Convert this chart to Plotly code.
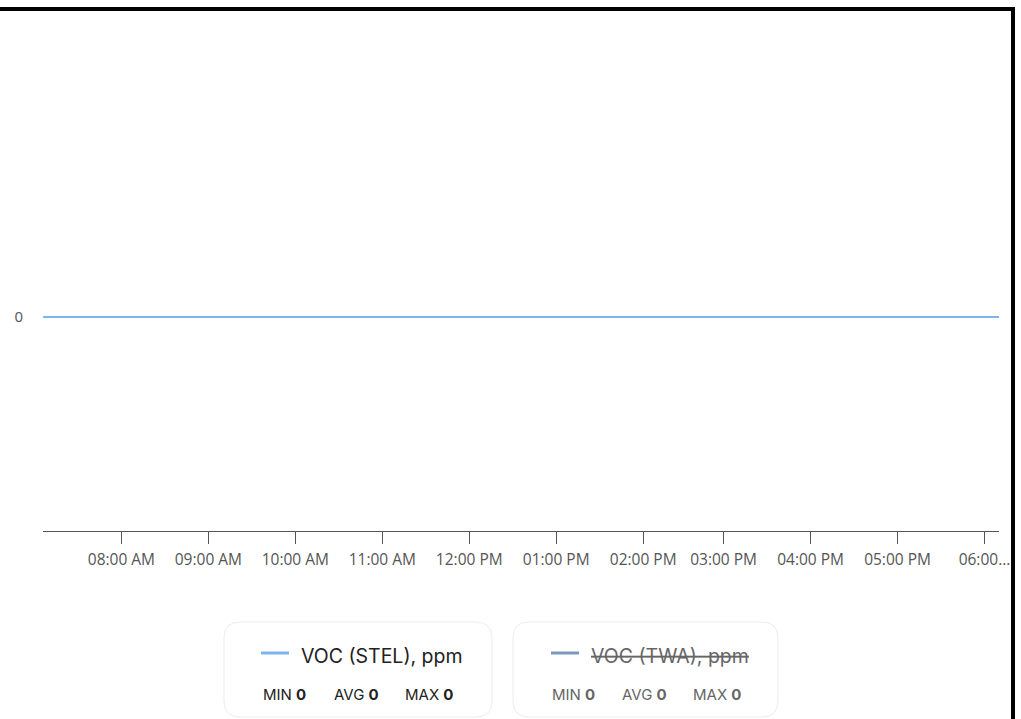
import numpy as np
import plotly.graph_objects as go

# ---- data ----
day = "2024-05-14"
times = ["07:06", "08:00", "09:00", "10:00", "11:00", "12:00", "13:00",
         "14:00", "15:00", "16:00", "17:00", "18:00", "18:10"]
stel_values = [0, 0, 0, 0, 0, 0, 0, 0, 0, 0, 0, 0, 0]
twa_values = [0, 0, 0, 0, 0, 0, 0, 0, 0, 0, 0, 0, 0]
tick_times = ["08:00", "09:00", "10:00", "11:00", "12:00", "13:00",
              "14:00", "15:00", "16:00", "17:00", "18:00"]
tick_labels = ["08:00 AM", "09:00 AM", "10:00 AM", "11:00 AM", "12:00 PM",
               "01:00 PM", "02:00 PM", "03:00 PM", "04:00 PM", "05:00 PM",
               "06:00..."]
gap = ["14:30", "14:34:30"]  # missing data interval
series_names = ["VOC (STEL), ppm", "VOC (TWA), ppm"]
series_colors = ["#7cb5ec", "#7798BF"]

x = [f"{day} {t}" for t in times]
tickvals = [f"{day} {t}" for t in tick_times]

fig = go.Figure()
fig.add_trace(go.Scatter(x=x, y=stel_values, mode="lines", name=series_names[0],
                         line=dict(color=series_colors[0], width=2), showlegend=False))
fig.add_trace(go.Scatter(x=x, y=twa_values, mode="lines", name=series_names[1],
                         line=dict(color=series_colors[1], width=2), visible=False,
                         showlegend=False))

W, H = 1021, 719
L, R, T, B = 43, 999, 103, 531


def px(v):
    return (v - L) / (R - L)


def py(v):
    return (B - v) / (B - T)


def rrect(x0, y0, x1, y1, r):
    pts = [
        ("M", [(x0 + r, y0)]),
        ("L", [(x1 - r, y0)]),
        ("Q", [(x1, y0), (x1, y0 + r)]),
        ("L", [(x1, y1 - r)]),
        ("Q", [(x1, y1), (x1 - r, y1)]),
        ("L", [(x0 + r, y1)]),
        ("Q", [(x0, y1), (x0, y1 - r)]),
        ("L", [(x0, y0 + r)]),
        ("Q", [(x0, y0), (x0 + r, y0)]),
    ]
    s = ""
    for cmd, ps in pts:
        s += cmd + " " + " ".join(f"{px(a):.5f},{py(b):.5f}" for a, b in ps) + " "
    return s + "Z"


shapes = []
# frame lines (black borders)
shapes.append(dict(type="rect", xref="paper", yref="paper", x0=px(0), x1=px(1015),
                   y0=py(11), y1=py(7), fillcolor="black", line=dict(width=0)))
shapes.append(dict(type="rect", xref="paper", yref="paper", x0=px(1011), x1=px(1015),
                   y0=py(725), y1=py(7), fillcolor="black", line=dict(width=0)))

boxes = [(224, 492), (513, 778)]
title_x = [300, 590]
line_x = [(261, 289), (551, 579)]
stat_x = [(262, 333, 404), (551, 621, 692)]
text_colors = ["#222222", "#666666"]
annotations = []
for i, (bx0, bx1) in enumerate(boxes):
    shapes.append(dict(type="path", xref="paper", yref="paper",
                       path=rrect(bx0, 622, bx1, 717, 16),
                       line=dict(color="#ededed", width=1), fillcolor="white"))
    shapes.append(dict(type="line", xref="paper", yref="paper",
                       x0=px(line_x[i][0]), x1=px(line_x[i][1]), y0=py(653), y1=py(653),
                       line=dict(color=series_colors[i], width=3)))
    name = series_names[i] if i == 0 else f"<s>{series_names[i]}</s>"
    annotations.append(dict(xref="paper", yref="paper", x=px(title_x[i] - 1), y=py(656),
                            text=name, showarrow=False, xanchor="left", yanchor="middle",
                            font=dict(family="Inter", size=19.5, color=text_colors[i])))
    vals = stel_values if i == 0 else twa_values
    stats = [("MIN", np.min(vals)), ("AVG", np.mean(vals)), ("MAX", np.max(vals))]
    for (lab, v), sx in zip(stats, stat_x[i]):
        annotations.append(dict(xref="paper", yref="paper", x=px(sx - 1), y=py(694),
                                text=f"{lab} <b>{v:g}</b>", showarrow=False,
                                xanchor="left", yanchor="middle",
                                font=dict(family="Inter", size=15, color=text_colors[i])))

fig.update_layout(
    width=W, height=H,
    margin=dict(l=L, r=W - R, t=T, b=H - B, pad=0),
    paper_bgcolor="white", plot_bgcolor="white",
    showlegend=False,
    shapes=shapes, annotations=annotations,
    xaxis=dict(type="date", range=[f"{day} 07:05:54", f"{day} 18:10"],
               rangebreaks=[dict(bounds=[f"{day} {gap[0]}", f"{day} {gap[1]}"])],
               tickvals=tickvals, ticktext=tick_labels,
               showgrid=False, zeroline=False, showline=True, linecolor="#555555",
               linewidth=1, ticks="outside", ticklen=12, tickcolor="#555555",
               ticklabelstandoff=2,
               tickfont=dict(family="Open Sans", size=15.5, color="#555555")),
    yaxis=dict(range=[-1, 1], tickvals=[0], ticktext=["0"], showgrid=False,
               zeroline=False, showline=False, ticks="", ticklabelstandoff=19,
               tickfont=dict(family="Open Sans", size=15, color="#555555")),
)

fig.write_html("out.html", config={"displayModeBar": False},
               post_script="document.body.style.margin='0';document.body.style.overflow='hidden';")
